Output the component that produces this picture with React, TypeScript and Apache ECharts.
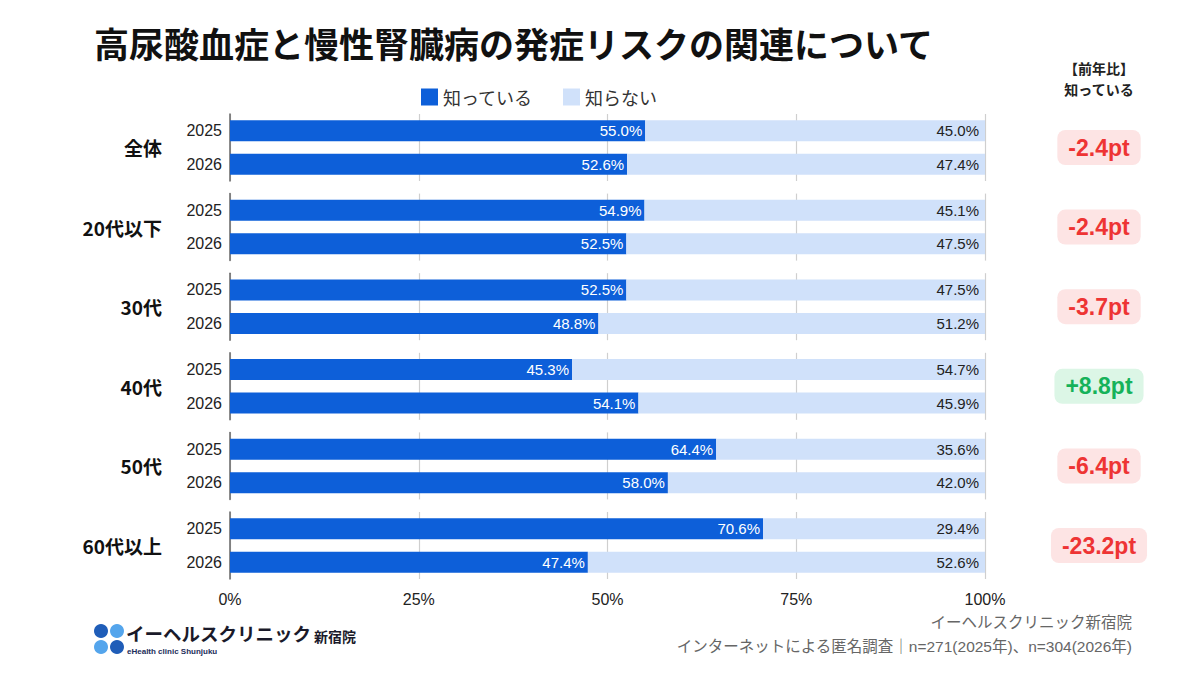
import React, { useEffect, useRef } from "react";
import * as echarts from "echarts";

// Survey results: share who know / don't know about the link, by age group and year
const groups = ["全体", "20代以下", "30代", "40代", "50代", "60代以上"];
const years = ["2025", "2026"];
const known2025 = [55.0, 54.9, 52.5, 45.3, 64.4, 70.6];
const known2026 = [52.6, 52.5, 48.8, 54.1, 58.0, 47.4];
const unknown2025 = [45.0, 45.1, 47.5, 54.7, 35.6, 29.4];
const unknown2026 = [47.4, 47.5, 51.2, 45.9, 42.0, 52.6];
const xTicks = [0, 25, 50, 75, 100];

const TITLE = "高尿酸血症と慢性腎臓病の発症リスクの関連について";
const KNOWN = "知っている";
const UNKNOWN = "知らない";

const BLUE = "#0d5fd9";
const LIGHT = "#d0e1fa";
const FONT = "'Liberation Sans', 'Noto Sans CJK JP', sans-serif";
const JP = "'Noto Sans CJK JP', sans-serif";

export default function App() {
  const ref = useRef<HTMLDivElement>(null);

  useEffect(() => {
    document.body.style.margin = "0";
    if (!ref.current) return;
    const chart = echarts.init(ref.current, null, { renderer: "svg" });

    const gridTop0 = 114;
    const gridStep = 79.6;
    const gridH = 67;
    const left = 230;
    const right = 1200 - 985;

    const grids: any[] = [];
    const xAxes: any[] = [];
    const yAxes: any[] = [];
    const series: any[] = [];
    const graphics: any[] = [];

    groups.forEach((g, i) => {
      const top = gridTop0 + i * gridStep;
      const isLast = i === groups.length - 1;
      grids.push({ left, right, top, height: gridH });
      xAxes.push({
        type: "value",
        gridIndex: i,
        min: 0,
        max: 100,
        interval: 25,
        axisLine: { show: false },
        axisTick: { show: false },
        splitLine: { show: true, lineStyle: { color: "#cfcfcf", width: 1.2 } },
        axisLabel: {
          show: isLast,
          formatter: (v: number) => (xTicks.includes(v) ? `${v}%` : ""),
          color: "#222",
          fontSize: 16,
          fontFamily: FONT,
          margin: 12,
        },
      });
      yAxes.push({
        type: "category",
        gridIndex: i,
        data: years,
        inverse: true,
        axisLine: { show: true, lineStyle: { color: "#666", width: 1.5 } },
        axisTick: { show: false },
        axisLabel: { color: "#222", fontSize: 16, fontFamily: FONT, margin: 8 },
        name: g,
        nameLocation: "middle",
        nameRotate: 0,
        nameGap: 68,
        nameTextStyle: {
          color: "#111",
          fontSize: 19,
          fontWeight: "bold",
          fontFamily: JP,
          align: "right",
          verticalAlign: "middle",
        },
      });

      const known = [known2025[i], known2026[i]];
      const unknown = [unknown2025[i], unknown2026[i]];
      series.push({
        name: KNOWN,
        type: "bar",
        stack: "s" + i,
        xAxisIndex: i,
        yAxisIndex: i,
        barWidth: 21,
        data: known,
        itemStyle: { color: BLUE },
        label: {
          show: true,
          position: "insideRight",
          formatter: (p: any) => `${p.value.toFixed(1)}%`,
          color: "#fff",
          fontSize: 15,
          fontFamily: FONT,
          distance: 3,
        },
      });
      series.push({
        name: UNKNOWN,
        type: "bar",
        stack: "s" + i,
        xAxisIndex: i,
        yAxisIndex: i,
        barWidth: 21,
        data: unknown,
        itemStyle: { color: LIGHT },
        label: {
          show: true,
          position: "insideRight",
          formatter: (p: any) => `${p.value.toFixed(1)}%`,
          color: "#222",
          fontSize: 15,
          fontFamily: FONT,
          distance: 6,
        },
      });

      // year-over-year change badge for "知っている"
      const diff = known2026[i] - known2025[i];
      const up = diff > 0;
      const txt = `${up ? "+" : diff < 0 ? "-" : ""}${Math.abs(diff).toFixed(1)}pt`;
      graphics.push({
        type: "text",
        x: 1099,
        y: top + gridH / 2,
        style: {
          text: txt,
          fontSize: 23,
          fontWeight: "bold",
          fontFamily: FONT,
          fill: up ? "#16b25a" : "#ee3434",
          backgroundColor: up ? "#dcf6e6" : "#fde4e4",
          padding: [6, 11, 6, 11],
          borderRadius: 8,
          align: "center",
          verticalAlign: "middle",
        },
      });
    });

    // header above the badges
    graphics.push({
      type: "text",
      x: 1099,
      y: 68,
      style: {
        text: "【前年比】",
        fontSize: 14,
        fontWeight: "bold",
        fontFamily: JP,
        fill: "#222",
        align: "center",
        verticalAlign: "middle",
      },
    });
    graphics.push({
      type: "text",
      x: 1099,
      y: 89,
      style: {
        text: KNOWN,
        fontSize: 14,
        fontWeight: "bold",
        fontFamily: JP,
        fill: "#222",
        align: "center",
        verticalAlign: "middle",
      },
    });

    // clinic logo
    const dots = [
      { x: 101, y: 631, c: "#1f5db8" },
      { x: 117, y: 631, c: "#54a5ec" },
      { x: 101, y: 647, c: "#54a5ec" },
      { x: 117, y: 647, c: "#1f5db8" },
    ];
    dots.forEach((d) =>
      graphics.push({ type: "circle", shape: { cx: d.x, cy: d.y, r: 7 }, style: { fill: d.c } })
    );
    graphics.push({
      type: "text",
      x: 126,
      y: 633,
      style: {
        text: "イーヘルスクリニック",
        fontSize: 18.5,
        fontWeight: "bold",
        fontFamily: JP,
        fill: "#1a1a2a",
        verticalAlign: "middle",
      },
    });
    graphics.push({
      type: "text",
      x: 314,
      y: 636,
      style: {
        text: "新宿院",
        fontSize: 14,
        fontWeight: "bold",
        fontFamily: JP,
        fill: "#1a1a2a",
        verticalAlign: "middle",
      },
    });
    graphics.push({
      type: "text",
      x: 127,
      y: 651,
      style: {
        text: "eHealth clinic Shunjuku",
        fontSize: 8,
        fontWeight: "bold",
        fontFamily: FONT,
        fill: "#1c2d5a",
        verticalAlign: "middle",
      },
    });

    // source notes
    graphics.push({
      type: "text",
      x: 1132,
      y: 622,
      style: {
        text: "イーヘルスクリニック新宿院",
        fontSize: 15.5,
        fontFamily: FONT,
        fill: "#666",
        align: "right",
        verticalAlign: "middle",
      },
    });
    graphics.push({
      type: "text",
      x: 1132,
      y: 646,
      style: {
        text: "インターネットによる匿名調査｜n=271(2025年)、n=304(2026年)",
        fontSize: 15.5,
        fontFamily: FONT,
        fill: "#666",
        align: "right",
        verticalAlign: "middle",
      },
    });

    chart.setOption({
      animation: false,
      backgroundColor: "#fff",
      title: {
        text: TITLE,
        left: 89,
        top: 20,
        textStyle: { fontSize: 35, fontWeight: "bold", color: "#111", fontFamily: JP },
      },
      legend: {
        data: [KNOWN, UNKNOWN],
        left: 416,
        top: 83,
        icon: "rect",
        itemWidth: 17,
        itemHeight: 17,
        itemGap: 30,
        textStyle: { fontSize: 18, color: "#333", fontFamily: JP },
      },
      grid: grids,
      xAxis: xAxes,
      yAxis: yAxes,
      series,
      graphic: graphics,
    });

    return () => chart.dispose();
  }, []);

  return <div ref={ref} style={{ width: 1200, height: 675 }} />;
}
